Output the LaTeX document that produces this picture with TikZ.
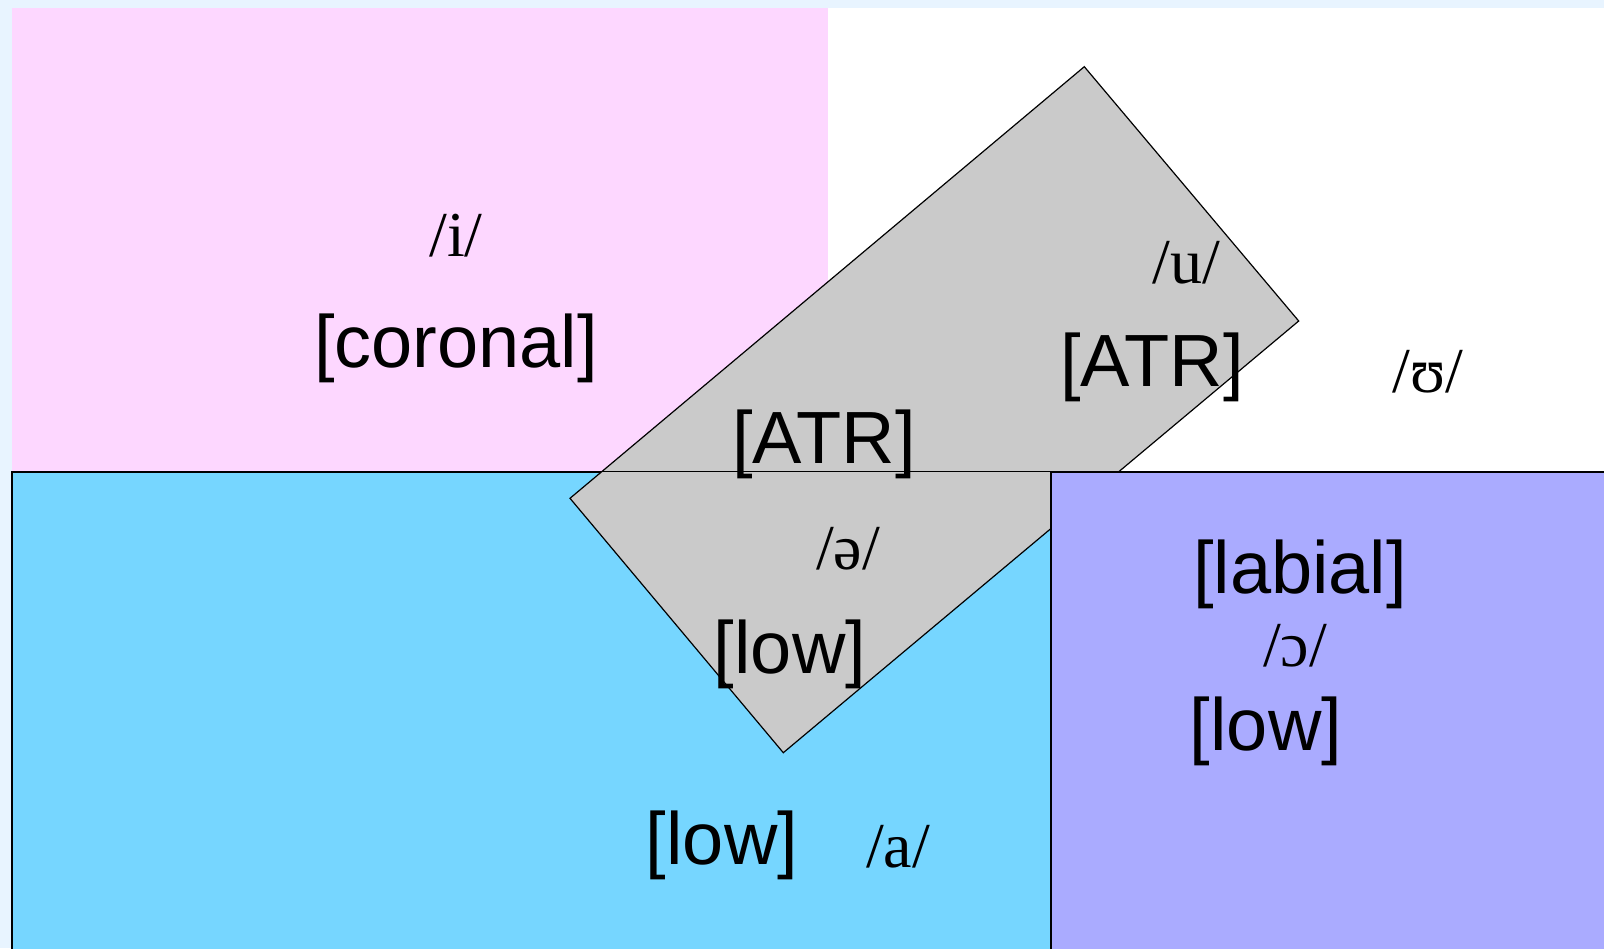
\documentclass[tikz,border=0pt]{standalone}
\usepackage{fontspec}
\newfontfamily\featfont{Liberation Sans}
\newfontfamily\ipafont{Liberation Serif}
\usetikzlibrary{positioning}

\definecolor{pagebg}{RGB}{232,244,255}
\definecolor{corpink}{RGB}{253,215,255}
\definecolor{lowcyan}{RGB}{118,214,255}
\definecolor{labpurple}{RGB}{170,171,255}
\definecolor{atrgrey}{RGB}{202,202,202}

\begin{document}
\begin{tikzpicture}[
      x=1pt, y=-1pt,
      feat/.style={font=\featfont\fontsize{74pt}{82pt}\selectfont, inner sep=0pt, anchor=base},
      ipa/.style={font=\ipafont\fontsize{64pt}{72pt}\selectfont, inner sep=0pt, anchor=base},
      edge/.style={draw=black, line width=1.2pt},
    ]
    \useasboundingbox (0,0) rectangle (1604,948);
    \fill[pagebg] (0,0) rectangle (1604,948);
    \fill[white] (12,8) rectangle (1604,948);

    % feature regions
    \fill[corpink] (12,8) rectangle (828,472);
    \fill[lowcyan, edge] (12,472) rectangle (1051,960);

    % the tilted [ATR] box
    \coordinate (atrN) at (1084.3,66.7);
    \coordinate (atrE) at (1298.7,321);
    \coordinate (atrS) at (783.3,752.7);
    \coordinate (atrW) at (570,498.3);
    \filldraw[atrgrey, edge] (atrN) -- (atrE) -- (atrS) -- (atrW) -- cycle;

    \fill[labpurple, edge] (1051,472) rectangle (1610,960);
    \coordinate (midL) at (556,471.5);
    \coordinate (midR) at (1604,471.5);
    \draw[line width=1.6pt] (midL) -- (midR);

    % labels
    \node[ipa]  (i)    at (456,256) {/i/};
    \node[feat] (cor)  at (456,367) {[coronal]};
    \node[ipa]  (u)    at (1186,283) {/u/};
    \node[feat] (atr1) at (1152,386) {[ATR]};
    \node[ipa]  (hu)   at (1428,392) {/ʊ/};
    \node[feat] (atr2) at (824,463) {[ATR]};
    \node[ipa]  (schwa) at (848,569) {/ə/};
    \node[feat] (low1) at (790,673) {[low]};
    \node[feat] (lab)  at (1300,593) {[labial]};
    \node[ipa]  (oo)   at (1295,666) {/ɔ/};
    \node[feat] (low2) at (1266,750) {[low]};
    \node[feat] (low3) at (722,864) {[low]};
    \node[ipa]  (a)    at (898,867) {/a/};
  \end{tikzpicture}
\end{document}
